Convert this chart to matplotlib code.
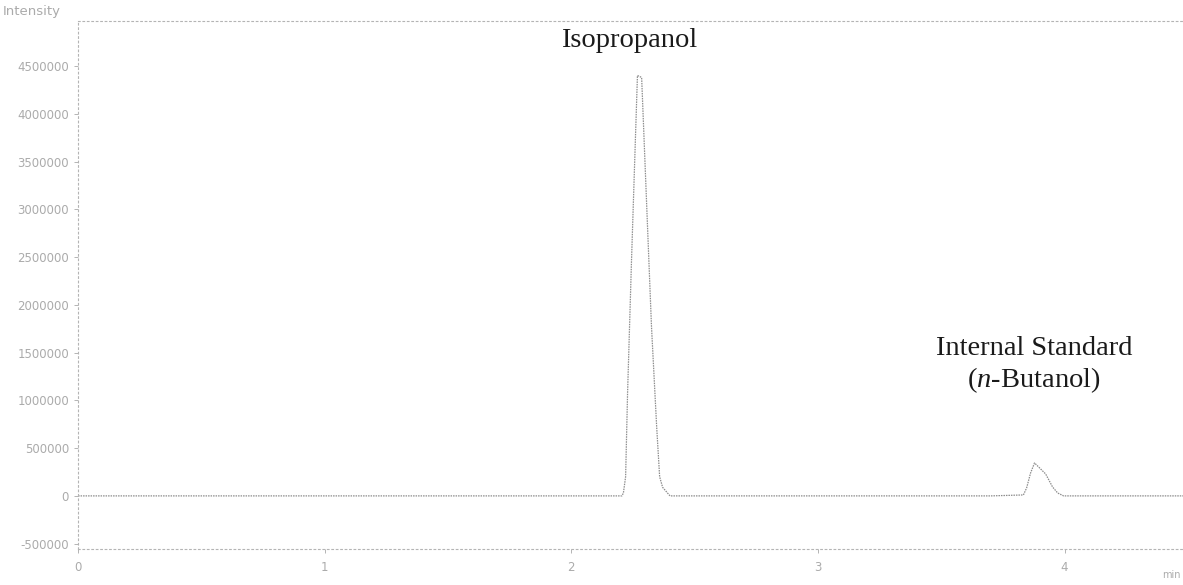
import matplotlib
matplotlib.use("Agg")
import matplotlib.pyplot as plt

# ---- data (time in min, intensity in counts) ----
time_min = [0.00, 1.20, 2.10, 2.205, 2.211, 2.220, 2.228, 2.244, 2.268, 2.285,
            2.309, 2.325, 2.346, 2.358, 2.370, 2.40, 3.00, 3.70, 3.833, 3.846,
            3.862, 3.878, 3.923, 3.951, 3.972, 3.996, 4.20, 4.48]
intensity = [0, 0, 0, 0, 30000, 200000, 1080000, 2470000, 4400000, 4380000,
             2810000, 1770000, 720000, 200000, 90000, 0, 0, 0, 10000, 84000,
             240000, 345000, 230000, 94000, 30000, 0, 0, 0]

y_ticks = [-500000, 0, 500000, 1000000, 1500000, 2000000, 2500000,
           3000000, 3500000, 4000000, 4500000]
y_tick_labels = [str(v) for v in y_ticks]
x_ticks = [0, 1, 2, 3, 4]
x_tick_labels = ["0", "1", "2", "3", "4"]

label_lines = ["Isopropanol", "Internal Standard", "($n$-Butanol)"]
label_x = [2.236, 3.877, 3.877]
label_y = [4700000, 1475000, 1140000]

plt.rcParams['font.family'] = ['Liberation Serif', 'DejaVu Serif']
plt.rcParams['mathtext.fontset'] = 'custom'
plt.rcParams['mathtext.it'] = 'Liberation Serif:italic'
plt.rcParams['mathtext.rm'] = 'Liberation Serif'

fig = plt.figure(figsize=(11.83, 5.85), dpi=100)
ax = fig.add_axes([0.066, 0.062, 0.934, 0.902])

gray = '#a8a8a8'
ax.plot(time_min, intensity, color='#8c8c8c', lw=0.9, ls=(0, (1.2, 0.8)))

ax.set_xlim(0, 4.48)
ax.set_ylim(-553000, 4970000)

ax.set_yticks(y_ticks)
ax.set_yticklabels(y_tick_labels)
ax.set_xticks(x_ticks)
ax.set_xticklabels(x_tick_labels)
ax.tick_params(axis='both', colors=gray, labelcolor='#ababab', labelsize=8.5,
               length=3, width=0.6)
for lab in ax.get_xticklabels() + ax.get_yticklabels():
    lab.set_family('DejaVu Sans')
ax.tick_params(axis='x', pad=6)

for side in ['left', 'top', 'bottom']:
    ax.spines[side].set_color('#b4b4b4')
    ax.spines[side].set_linewidth(0.8)
    ax.spines[side].set_linestyle((0, (1.5, 2.5)))
ax.spines['right'].set_visible(False)

for text, xt, yt in zip(label_lines, label_x, label_y):
    ax.text(xt, yt, text, ha='center', va='baseline', fontsize=20.5,
            color='#1a1a1a')

fig.text(0.002, 0.992, "Intensity", ha='left', va='top', fontsize=9.5,
         color='#ababab', family='DejaVu Sans')
fig.text(0.998, 0.008, "min", ha='right', va='bottom', fontsize=7,
         color='#ababab', family='DejaVu Sans')

fig.savefig("out.png", dpi=100, facecolor='white')
